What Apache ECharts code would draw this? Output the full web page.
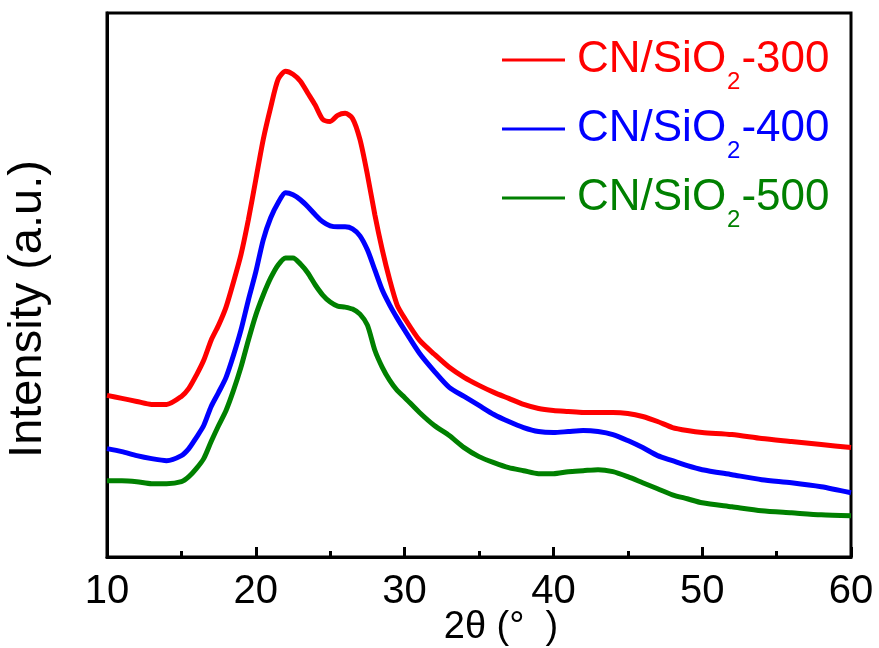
<!DOCTYPE html>
<html>
<head>
<meta charset="utf-8">
<script src="https://cdn.jsdelivr.net/npm/echarts@6/dist/echarts.min.js"></script>
<style>
html,body{margin:0;padding:0;background:#fff;}
#chart{width:879px;height:648px;}
</style>
</head>
<body>
<div id="chart"></div>
<script>
// 2θ angles (degrees)
var angles = [10, 11, 12, 13, 14, 15, 15.5, 16, 16.5, 17, 17.5, 18, 18.5, 19, 19.5, 20, 20.5, 21, 21.5, 22, 22.5, 23, 23.5, 24, 24.5, 25, 25.5, 26, 26.5, 27, 27.5, 28, 28.5, 29, 29.5, 30, 31, 32, 33, 34, 35, 36, 37, 38, 39, 40, 41, 42, 43, 44, 45, 46, 47, 48, 49, 50, 52, 54, 56, 58, 60];
// Intensities (a.u.)
var cn300 = [161, 158, 155, 152, 152, 160, 168, 181, 196, 216, 231, 249, 274, 301, 336, 376, 416, 448, 476, 484, 481, 474, 462, 450, 436, 434, 440, 442, 437, 416, 381, 341, 306, 276, 251, 238, 216, 202, 189, 179, 171, 164, 158, 152, 148, 146, 145, 144, 144, 144, 143, 140, 135, 129, 126, 124, 122, 118, 115, 112, 109];
var cn400 = [108, 105, 101, 98, 96, 101, 108, 119, 131, 150, 164, 179, 201, 226, 256, 284, 316, 338, 353, 363, 361, 356, 349, 341, 334, 330, 329, 329, 327, 320, 306, 286, 266, 251, 238, 226, 203, 185, 169, 160, 151, 142, 135, 129, 125, 124, 125, 126, 125, 122, 116, 109, 101, 96, 91, 87, 82, 77, 74, 70, 64];
var cn500 = [76, 76, 75, 73, 73, 75, 80, 88, 98, 115, 131, 146, 166, 189, 216, 241, 261, 278, 291, 298, 298, 292, 283, 271, 261, 254, 250, 249, 247, 242, 231, 206, 189, 176, 166, 159, 144, 131, 121, 109, 100, 94, 89, 86, 83, 83, 85, 86, 87, 85, 80, 74, 68, 62, 58, 54, 50, 46, 44, 42, 41];
var seriesNames = ['CN/SiO2-300', 'CN/SiO2-400', 'CN/SiO2-500'];
var seriesColors = ['#ff0000', '#0000ff', '#008000'];
var xTicks = [10, 20, 30, 40, 50, 60];

function pairs(ys) {
  return angles.map(function (a, i) { return [a, ys[i]]; });
}
var allData = [cn300, cn400, cn500];
var colorKeys = ['r', 'b', 'g'];
var FONT = 'Liberation Sans, Arial, sans-serif';

var rich = {};
colorKeys.forEach(function (k, i) {
  rich[k] = { color: seriesColors[i], fontSize: 44, fontFamily: FONT, verticalAlign: 'top', lineHeight: 44 };
  rich[k + 's'] = { color: seriesColors[i], fontSize: 24, fontFamily: FONT, verticalAlign: 'top', lineHeight: 24, padding: [32, 1, 0, 1] };
});

var chart = echarts.init(document.getElementById('chart'), null, { renderer: 'canvas' });
chart.setOption({
  animation: false,
  backgroundColor: '#ffffff',
  grid: {
    left: 107, top: 13, right: 28, bottom: 91,
    outerBoundsMode: 'none',
    containLabel: false,
    show: true, borderColor: '#000', borderWidth: 3, backgroundColor: 'transparent'
  },
  legend: {
    orient: 'vertical',
    left: 502,
    top: 38,
    padding: 0,
    itemGap: 13,
    icon: 'rect',
    itemWidth: 63,
    itemHeight: 3,
    data: seriesNames,
    textStyle: { rich: rich, padding: [0, 0, 0, 7] },
    formatter: function (name) {
      var i = seriesNames.indexOf(name);
      var k = colorKeys[i];
      var parts = name.split('SiO2');
      return '{' + k + '|' + parts[0] + 'SiO}{' + k + 's|2}{' + k + '|' + parts[1] + '}';
    }
  },
  xAxis: {
    type: 'value',
    min: 10, max: 60, interval: 10,
    name: '2θ (°  )',
    nameLocation: 'middle',
    nameGap: 52,
    nameMoveOverlap: false,
    nameTextStyle: { fontSize: 38, color: '#000', fontFamily: FONT, padding: [0, 0, 0, 44] },
    axisLine: { show: true, onZero: false, lineStyle: { color: '#000', width: 3 } },
    axisTick: { show: true, inside: true, length: 10, lineStyle: { color: '#000', width: 3 } },
    minorTick: { show: true, splitNumber: 2, length: 6, lineStyle: { color: '#000', width: 3 } },
    axisLabel: {
      show: true, fontSize: 40, color: '#000', margin: 15,
      fontFamily: FONT,
      showMinLabel: true, showMaxLabel: true,
      formatter: function (v) { return xTicks.indexOf(v) >= 0 ? String(v) : ''; }
    },
    splitLine: { show: false }
  },
  yAxis: {
    type: 'value',
    min: 0, max: 542,
    name: 'Intensity (a.u.)',
    nameLocation: 'middle',
    nameGap: 55,
    nameMoveOverlap: false,
    nameTextStyle: { fontSize: 47, color: '#000', fontFamily: FONT, padding: [0, 48, 0, 0] },
    axisLine: { show: true, lineStyle: { color: '#000', width: 3 } },
    axisTick: { show: false },
    axisLabel: { show: false },
    splitLine: { show: false }
  },
  series: seriesNames.map(function (n, i) {
    return {
      name: n,
      type: 'line',
      showSymbol: false,
      smooth: 0.25,
      data: pairs(allData[i]),
      itemStyle: { color: seriesColors[i] },
      lineStyle: { color: seriesColors[i], width: 5 },
      z: 3 - i
    };
  })
});
</script>
</body>
</html>
